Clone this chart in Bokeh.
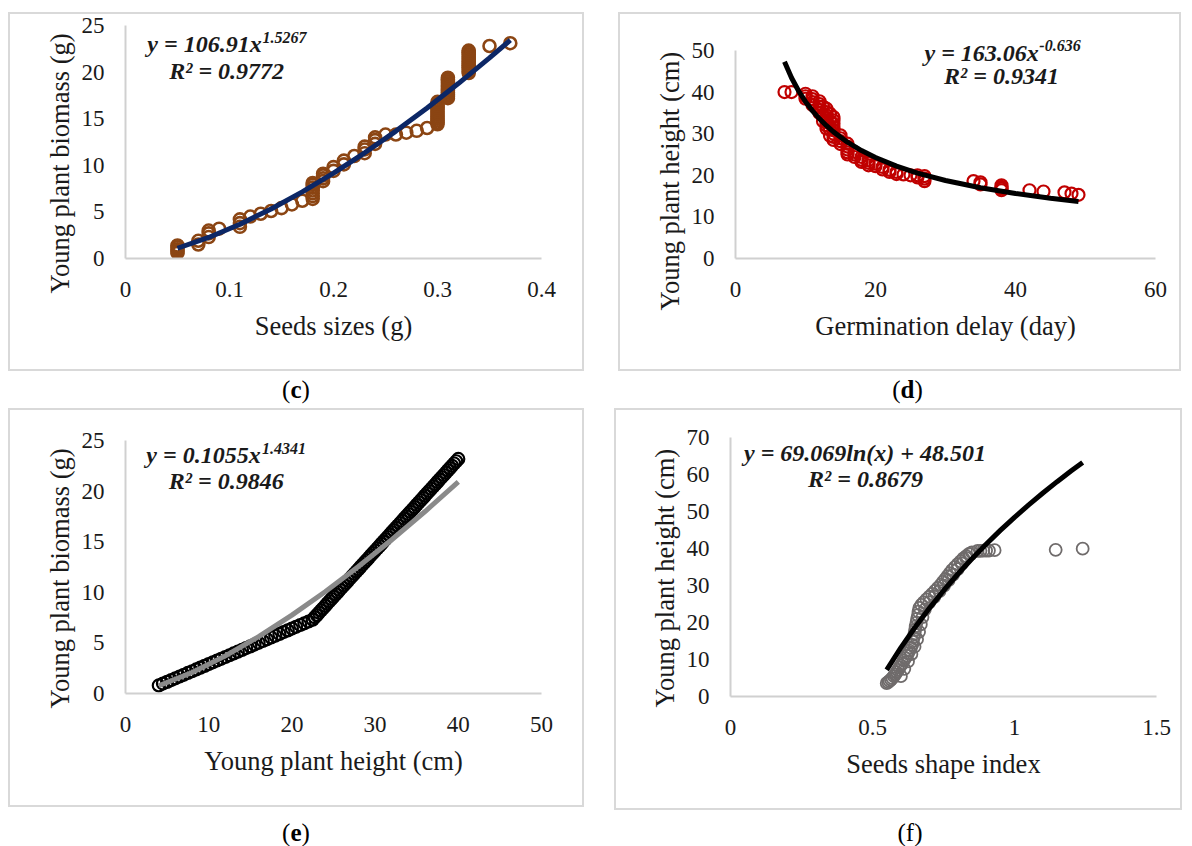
from bokeh.plotting import figure
from bokeh.models import Label, FixedTicker, Range1d, Div, Spacer, Title
from bokeh.layouts import column, row
from bokeh.embed import file_html
from bokeh.resources import INLINE

FONT = "Liberation Serif"
TXT = "#1a1a1a"

# ---------------- panel (c): seed size vs biomass ----------------
c_seed = [0.05, 0.05, 0.05, 0.05, 0.05, 0.07, 0.07, 0.08, 0.08, 0.08, 0.09,
          0.11, 0.11, 0.11, 0.12, 0.13, 0.14, 0.15, 0.16, 0.17,
          0.18, 0.18, 0.18, 0.18, 0.18, 0.18, 0.18, 0.19, 0.19, 0.19, 0.19, 0.20, 0.20,
          0.21, 0.21, 0.22, 0.23, 0.23, 0.23, 0.24, 0.24, 0.24,
          0.25, 0.26, 0.27, 0.28, 0.29,
          0.30, 0.30, 0.30, 0.30, 0.30, 0.30, 0.30, 0.30, 0.30, 0.30, 0.30, 0.30, 0.30,
          0.31, 0.31, 0.31, 0.31, 0.31, 0.31, 0.31, 0.31, 0.31, 0.31, 0.31, 0.31,
          0.33, 0.33, 0.33, 0.33, 0.33, 0.33, 0.33, 0.33, 0.33, 0.33, 0.33, 0.33, 0.33,
          0.35, 0.37]
c_biomass = [0.6, 0.8, 1.0, 1.2, 1.4, 1.5, 1.9, 2.3, 2.7, 3.0, 3.2,
             3.4, 3.8, 4.2, 4.5, 4.8, 5.1, 5.4, 5.8, 6.2,
             6.4, 6.7, 7.0, 7.3, 7.6, 7.9, 8.1, 8.3, 8.6, 8.9, 9.1, 9.4, 9.8,
             10.1, 10.5, 11.0, 11.3, 11.7, 12.0, 12.3, 12.7, 13.0,
             13.3, 13.3, 13.5, 13.7, 14.0,
             14.4, 14.6, 14.8, 15.0, 15.2, 15.4, 15.6, 15.8, 16.0, 16.2, 16.4, 16.6, 16.8,
             17.2, 17.4, 17.6, 17.8, 18.0, 18.2, 18.4, 18.6, 18.8, 19.0, 19.2, 19.4,
             19.9, 20.1, 20.3, 20.5, 20.7, 20.9, 21.1, 21.3, 21.5, 21.7, 21.9, 22.1, 22.3,
             22.8, 23.1]
c_fit_x = [0.05, 0.08, 0.11, 0.14, 0.17, 0.20, 0.23, 0.26, 0.29, 0.32, 0.35, 0.37]
c_fit_y = [1.10, 2.26, 3.68, 5.31, 7.15, 9.16, 11.34, 13.67, 16.15, 18.77, 21.52, 23.43]
c_xticks = [0, 0.1, 0.2, 0.3, 0.4]
c_xtick_labels = ["0", "0.1", "0.2", "0.3", "0.4"]
c_yticks = [0, 5, 10, 15, 20, 25]

# ---------------- panel (d): germination delay vs height ----------------
d_delay = [7, 8, 10, 10, 10, 11, 11, 11, 11, 12, 12, 12, 12, 12, 12.5, 12.5, 12.5,
           13, 13, 13, 13, 13, 13, 13, 13.5, 13.5, 13.5, 13.5,
           14, 14, 14, 14, 14, 14, 14, 14,
           15, 15, 15, 15, 16, 16, 16, 16, 16, 17, 17, 17, 18, 18, 18,
           19, 19, 19, 20, 20, 21, 21, 22, 22, 23, 23, 24, 25, 26, 26,
           27, 27, 27, 34, 35, 35, 38, 38, 38, 38, 42, 44, 47, 48, 49]
d_height = [40.0, 40.0, 39.6, 39.0, 38.4, 39.0, 38.3, 37.6, 36.9, 37.8, 37.1, 36.4, 35.7, 35.0,
            36.5, 34.5, 33.0,
            36.0, 35.2, 34.4, 33.6, 32.8, 32.0, 31.2, 34.8, 33.0, 31.0, 29.5,
            34.0, 33.2, 32.4, 31.6, 30.8, 30.0, 29.2, 28.5,
            29.6, 28.9, 28.2, 27.5, 27.6, 26.9, 26.2, 25.5, 25.0, 25.6, 25.0, 24.4, 24.4, 23.7, 23.2,
            23.6, 23.0, 22.4, 22.8, 22.2, 22.0, 21.4, 21.3, 20.8, 20.8, 20.3, 20.2, 20.0, 20.0, 19.5,
            19.8, 19.2, 18.6, 18.6, 18.3, 17.8, 17.6, 17.2, 16.8, 16.4, 16.4, 16.1, 15.9, 15.6, 15.3]
d_fit_x = [7, 8, 9, 10, 11, 12, 13, 14, 16, 18, 20, 23, 26, 30, 35, 40, 45, 49]
d_fit_y = [47.30, 43.45, 40.31, 37.70, 35.48, 33.58, 31.91, 30.43, 27.96, 25.94,
           24.26, 22.19, 20.53, 18.75, 16.99, 15.62, 14.48, 13.72]
d_xticks = [0, 20, 40, 60]
d_yticks = [0, 10, 20, 30, 40, 50]

# ---------------- panel (e): height vs biomass ----------------
e_height = [4.0, 4.5, 5.0, 5.5, 6.0, 6.5, 7.0, 7.5, 8.0, 8.5, 9.0, 9.5, 10.0, 10.5,
            11.0, 11.5, 12.0, 12.5, 13.0, 13.5, 14.0, 14.5, 15.0, 15.5, 16.0, 16.5,
            17.0, 17.5, 18.0, 18.5, 19.0, 19.5, 20.0, 20.5, 21.0, 21.5, 22.0, 22.5,
            22.75, 23.0, 23.25, 23.5, 23.75, 24.0, 24.25, 24.5, 24.75, 25.0,
            25.25, 25.5, 25.75, 26.0, 26.25, 26.5, 26.75, 27.0, 27.25, 27.5,
            27.75, 28.0, 28.25, 28.5, 28.75, 29.0, 29.25, 29.5, 29.75, 30.0,
            30.25, 30.5, 30.75, 31.0, 31.25, 31.5, 31.75, 32.0, 32.25, 32.5,
            32.75, 33.0, 33.25, 33.5, 33.75, 34.0, 34.25, 34.5, 34.75, 35.0,
            35.25, 35.5, 35.75, 36.0, 36.25, 36.5, 36.75, 37.0, 37.25, 37.5,
            37.75, 38.0, 38.25, 38.5, 38.75, 39.0, 39.25, 39.5, 39.75, 40.0]
e_biomass = [0.80, 0.98, 1.15, 1.33, 1.50, 1.68, 1.85, 2.03, 2.20, 2.38, 2.56, 2.73, 2.91, 3.08,
             3.26, 3.43, 3.61, 3.78, 3.96, 4.13, 4.31, 4.49, 4.66, 4.84, 5.01, 5.19,
             5.36, 5.54, 5.71, 5.89, 6.07, 6.24, 6.42, 6.59, 6.77, 6.94, 7.12, 7.30,
             7.53, 7.75, 7.98, 8.21, 8.43, 8.66, 8.89, 9.12, 9.34, 9.57,
             9.80, 10.02, 10.25, 10.48, 10.70, 10.93, 11.16, 11.39, 11.61, 11.84,
             12.07, 12.29, 12.52, 12.75, 12.98, 13.20, 13.43, 13.66, 13.88, 14.11,
             14.34, 14.56, 14.79, 15.02, 15.25, 15.47, 15.70, 15.93, 16.15, 16.38,
             16.61, 16.84, 17.06, 17.29, 17.52, 17.74, 17.97, 18.20, 18.42, 18.65,
             18.88, 19.11, 19.33, 19.56, 19.79, 20.01, 20.24, 20.47, 20.69, 20.92,
             21.15, 21.38, 21.60, 21.83, 22.06, 22.28, 22.51, 22.74, 22.96, 23.19]
e_fit_x = [4, 8, 12, 16, 20, 24, 28, 32, 36, 40]
e_fit_y = [0.77, 2.08, 3.72, 5.62, 7.75, 10.06, 12.55, 15.20, 17.99, 20.93]
e_xticks = [0, 10, 20, 30, 40, 50]
e_yticks = [0, 5, 10, 15, 20, 25]

# ---------------- panel (f): seed shape index vs height ----------------
f_shape = [0.550, 0.555, 0.560, 0.565, 0.570, 0.575, 0.580, 0.585, 0.590, 0.595,
           0.600, 0.605, 0.610, 0.615, 0.620, 0.625, 0.630, 0.635, 0.640,
           0.642, 0.645, 0.648, 0.650, 0.652, 0.655, 0.657, 0.660, 0.662, 0.665,
           0.672, 0.680, 0.690, 0.700, 0.710, 0.720, 0.730, 0.740, 0.748, 0.756,
           0.764, 0.772, 0.780, 0.790, 0.800, 0.810, 0.820, 0.830, 0.840, 0.850,
           0.870, 0.880, 0.890, 0.900, 0.910, 0.930, 1.145, 1.240,
           0.600, 0.612, 0.625, 0.637, 0.648, 0.657, 0.664, 0.670, 0.676, 0.684,
           0.700, 0.718, 0.736, 0.752, 0.768, 0.784, 0.800, 0.815, 0.830, 0.845]
f_height = [3.6, 3.9, 4.2, 4.6, 5.0, 5.5, 6.0, 6.6, 7.2, 7.8,
            8.4, 9.0, 9.7, 10.4, 11.0, 11.7, 12.4, 13.2, 14.0,
            15.0, 16.0, 17.0, 18.0, 19.0, 20.0, 21.0, 22.0, 23.0, 24.0,
            24.8, 25.5, 26.3, 27.0, 27.8, 28.6, 29.4, 30.2, 31.0, 31.8,
            32.6, 33.4, 34.2, 35.0, 35.8, 36.6, 37.4, 38.0, 38.6, 39.0,
            39.4, 39.4, 39.5, 39.5, 39.5, 39.6, 39.7, 40.0,
            5.5, 7.5, 9.5, 11.5, 13.5, 15.5, 17.5, 19.5, 21.5, 23.5,
            25.5, 27.0, 28.5, 30.0, 31.5, 33.0, 34.5, 36.0, 37.5, 38.5]
f_fit_x = [0.55, 0.60, 0.65, 0.70, 0.75, 0.80, 0.85, 0.90, 0.95, 1.00, 1.05, 1.10, 1.15, 1.20, 1.24]
f_fit_y = [7.21, 13.22, 18.75, 23.87, 28.63, 33.09, 37.28, 41.22, 44.96, 48.50,
           51.87, 55.08, 58.15, 61.09, 63.36]
f_xticks = [0, 0.5, 1, 1.5]
f_xtick_labels = ["0", "0.5", "1", "1.5"]
f_yticks = [0, 10, 20, 30, 40, 50, 60, 70]


def panel(w, h, bl, br, bt, bb, xr, yr, ytop, xt, yt, xtitle, ytitle, ytitle_offset, overrides=None):
    p = figure(width=w, height=h, x_range=Range1d(*xr), y_range=Range1d(*yr),
               output_backend="svg", toolbar_location=None, title_location=None,
               min_border_left=bl, min_border_right=br,
               min_border_top=bt, min_border_bottom=bb, margin=(2, 2, 2, 2))
    p.styles = {"outline": "2px solid #d9d9d9", "outline-offset": "0px"}
    p.outline_line_color = None
    p.xgrid.visible = False
    p.ygrid.visible = False
    for ax, ticks in ((p.xaxis[0], xt), (p.yaxis[0], yt)):
        ax.ticker = FixedTicker(ticks=ticks)
        ax.axis_line_color = "#d0d0d0"
        ax.axis_line_width = 2
        ax.major_tick_line_color = None
        ax.minor_tick_line_color = None
        ax.major_tick_in = 0
        ax.major_tick_out = 0
        ax.major_label_text_font = FONT
        ax.major_label_text_font_size = "23px"
        ax.major_label_text_color = TXT
        ax.axis_label_text_font = FONT
        ax.axis_label_text_font_size = "26.5px"
        ax.axis_label_text_font_style = "normal"
        ax.axis_label_text_color = TXT
    p.yaxis.bounds = (yr[0], ytop)
    p.xaxis.axis_label = xtitle
    p.xaxis.major_label_standoff = 23
    p.xaxis.axis_label_standoff = 11
    p.yaxis.major_label_standoff = 21
    # vertical axis title, placed lower than the frame centre as in the reference
    p.add_layout(Title(text=ytitle, align="left", offset=ytitle_offset, standoff=8,
                       text_font=FONT, text_font_size="26.5px", text_font_style="normal",
                       text_color=TXT), "left")
    if overrides:
        p.xaxis.major_label_overrides = overrides
    return p


def eq(p, x, y, text, size="24px"):
    p.add_layout(Label(x=x, y=y, text=text, text_font=FONT, text_font_size=size,
                       text_font_style="bold italic", text_color=TXT,
                       text_baseline="middle", text_align="left"))


# (c)  box 8..584 x 12..371, frame x 125..541, y 25..262
pc = panel(572, 355, 115, 41, 11, 107, (0, 0.4), (0, 25), 25, c_xticks, c_yticks,
           "Seeds sizes (g)", "Young plant biomass (g)", -35, dict(zip(c_xticks, c_xtick_labels)))
pc.scatter(c_seed, c_biomass, size=12, fill_color=None, line_color="#8B4513", line_width=2.6)
pc.line(c_fit_x, c_fit_y, line_color="#0c2766", line_width=5)
eq(pc, 0.021, 23.0, "y = 106.91x")
eq(pc, 0.1317, 23.7, "1.5267", "16px")
eq(pc, 0.042, 20.15, "R² = 0.9772")

# (d)  box 618..1181 x 12..371, frame x 735..1155, y(0..56) 15.7..258.3
pd_ = panel(559, 355, 115, 24, 2, 111, (0, 60), (0, 56), 50, d_xticks, d_yticks,
            "Germination delay (day)", "Young plant height (cm)", -52)
pd_.scatter(d_delay, d_height, size=12, fill_color=None, line_color="#C00000", line_width=2.2)
pd_.line(d_fit_x, d_fit_y, line_color="#000000", line_width=5)
eq(pd_, 27.0, 49.3, "y = 163.06x")
eq(pd_, 43.4, 51.1, "-0.636", "16px")
eq(pd_, 29.8, 43.9, "R² = 0.9341")

# (e)  box 8..584 x 408..807, frame x 125.5..541.5, y(0..26) 429.8..695
pe = panel(572, 395, 115, 41, 20, 110, (0, 50), (0, 26), 25, e_xticks, e_yticks,
           "Young plant height (cm)", "Young plant biomass (g)", -15)
pe.scatter(e_height, e_biomass, size=12, fill_color=None, line_color="#000000", line_width=2.2)
pe.line(e_fit_x, e_fit_y, line_color="#8a8a8a", line_width=5)
eq(pe, 2.5, 23.6, "y = 0.1055x")
eq(pe, 16.4, 24.2, "1.4341", "16px")
eq(pe, 5.2, 21.0, "R² = 0.9846")

# (f)  box 614..1182 x 408..810, frame x 730..1156, y(0..72) 429.3..696
pf = panel(564, 398, 114, 24, 19, 112, (0, 1.5), (0, 72), 70, f_xticks, f_yticks,
           "Seeds shape index", "Young plant height (cm)", -11, dict(zip(f_xticks, f_xtick_labels)))
pf.scatter(f_shape, f_height, size=12, fill_color=None, line_color="#6f6b6b", line_width=1.8)
pf.line(f_fit_x, f_fit_y, line_color="#000000", line_width=5)
eq(pf, 0.0476, 66.0, "y = 69.069ln(x) + 48.501")
eq(pf, 0.273, 58.8, "R² = 0.8679")


def caption(letter, w, shift, h, pad, bold=True):
    inner = f"<b>{letter}</b>" if bold else letter
    html = (f'<div style="width:{w}px;text-align:center;font-family:\'Liberation Serif\';'
            f'font-size:25px;line-height:29px;color:#000;padding-top:{pad}px;'
            f'position:relative;left:{shift}px;">({inner})</div>')
    return Div(text=html, width=w, height=h, margin=(0, 0, 0, 0))


layout = column(
    Spacer(width=10, height=12),
    row(Spacer(width=8, height=10), pc, Spacer(width=34, height=10), pd_),
    row(Spacer(width=8, height=10), caption("c", 576, 0, 37, 4),
        Spacer(width=34, height=10), caption("d", 563, 8, 37, 4)),
    row(Spacer(width=8, height=10), pe, Spacer(width=30, height=10), pf),
    row(Spacer(width=8, height=10), caption("e", 576, 0, 34, 8),
        Spacer(width=30, height=10), caption("f", 568, 12, 34, 8, bold=False)),
)

open("out.html", "w").write(file_html(layout, INLINE, title="Seed traits"))
